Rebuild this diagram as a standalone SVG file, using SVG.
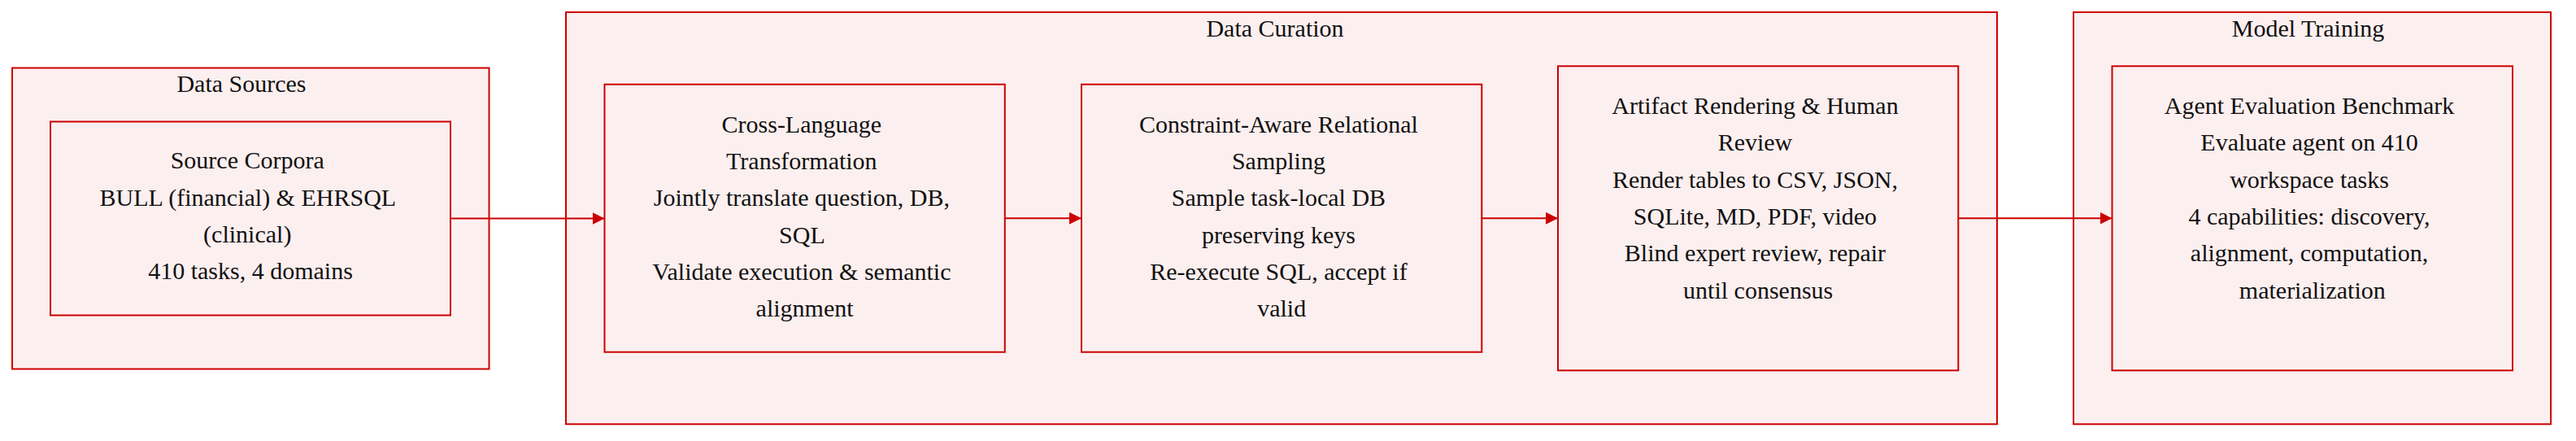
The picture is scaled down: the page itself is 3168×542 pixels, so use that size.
<svg xmlns="http://www.w3.org/2000/svg" width="3168" height="542" viewBox="0 0 3168 542">
<defs>
<style>
.cluster{fill:#fcefef;stroke:#cc0000;stroke-width:2}
.node{fill:#fcefef;stroke:#cc0000;stroke-width:2}
.lbl{font-family:"Liberation Serif","Times New Roman",serif;font-size:30px;fill:#111111;text-anchor:middle}
.edge{fill:none;stroke:#cc0000;stroke-width:2}
</style>
<marker id="arrow" viewBox="0 0 15 15" refX="15" refY="7.5" markerWidth="15" markerHeight="15" markerUnits="userSpaceOnUse" orient="auto">
<path d="M0,0 L15,7.5 L0,15 Z" fill="#cc0000"/>
</marker>
</defs>
<rect width="3168" height="542" fill="#ffffff"/>

<g id="cluster-data-sources">
<rect class="cluster" x="15" y="83.5" width="586.5" height="370"/>
<text class="lbl" x="297" y="113.3">Data Sources</text>
</g>
<g id="cluster-data-curation">
<rect class="cluster" x="696" y="15" width="1760" height="506.3"/>
<text class="lbl" x="1568" y="45">Data Curation</text>
</g>
<g id="cluster-model-training">
<rect class="cluster" x="2550" y="15" width="587" height="506.3"/>
<text class="lbl" x="2838.5" y="45">Model Training</text>
</g>

<g id="node-source-corpora">
<rect class="node" x="62" y="149.5" width="492" height="238"/>
<text class="lbl">
<tspan x="308" y="207.3">Source Corpora</tspan>
<tspan x="308" y="252.5">BULL (financial) &amp; EHRSQL</tspan>
<tspan x="308" y="297.7">(clinical)</tspan>
<tspan x="308" y="342.8">410 tasks, 4 domains</tspan>
</text>
</g>

<g id="node-cross-language">
<rect class="node" x="743.5" y="103.7" width="492.3" height="329"/>
<text class="lbl">
<tspan x="989.6" y="162.7">Cross-Language</tspan>
<tspan x="989.6" y="208">Transformation</tspan>
<tspan x="989.6" y="253.3">Jointly translate question, DB,</tspan>
<tspan x="989.6" y="298.6">SQL</tspan>
<tspan x="989.6" y="343.9">Validate execution &amp; semantic</tspan>
<tspan x="989.6" y="389.2">alignment</tspan>
</text>
</g>

<g id="node-constraint-sampling">
<rect class="node" x="1330" y="103.7" width="492.3" height="329"/>
<text class="lbl">
<tspan x="1576.2" y="162.7">Constraint-Aware Relational</tspan>
<tspan x="1576.2" y="208">Sampling</tspan>
<tspan x="1576.2" y="253.3">Sample task-local DB</tspan>
<tspan x="1576.2" y="298.6">preserving keys</tspan>
<tspan x="1576.2" y="343.9">Re-execute SQL, accept if</tspan>
<tspan x="1576.2" y="389.2">valid</tspan>
</text>
</g>

<g id="node-artifact-rendering">
<rect class="node" x="1916" y="81.3" width="492.3" height="374"/>
<text class="lbl">
<tspan x="2162.2" y="140">Artifact Rendering &amp; Human</tspan>
<tspan x="2162.2" y="185.3">Review</tspan>
<tspan x="2162.2" y="230.6">Render tables to CSV, JSON,</tspan>
<tspan x="2162.2" y="275.9">SQLite, MD, PDF, video</tspan>
<tspan x="2162.2" y="321.2">Blind expert review, repair</tspan>
<tspan x="2162.2" y="366.5">until consensus</tspan>
</text>
</g>

<g id="node-agent-benchmark">
<rect class="node" x="2597.5" y="81.3" width="492.5" height="374"/>
<text class="lbl">
<tspan x="2843.8" y="140">Agent Evaluation Benchmark</tspan>
<tspan x="2843.8" y="185.3">Evaluate agent on 410</tspan>
<tspan x="2843.8" y="230.6">workspace tasks</tspan>
<tspan x="2843.8" y="275.9">4 capabilities: discovery,</tspan>
<tspan x="2843.8" y="321.2">alignment, computation,</tspan>
<tspan x="2843.8" y="366.5">materialization</tspan>
</text>
</g>

<g id="connectors">
<path class="edge" d="M554,268.5 L743.5,268.5" marker-end="url(#arrow)"/>
<path class="edge" d="M1235.8,268.3 L1330,268.3" marker-end="url(#arrow)"/>
<path class="edge" d="M1822.3,268.3 L1916,268.3" marker-end="url(#arrow)"/>
<path class="edge" d="M2408.3,268.3 L2597.5,268.3" marker-end="url(#arrow)"/>
</g>
</svg>
